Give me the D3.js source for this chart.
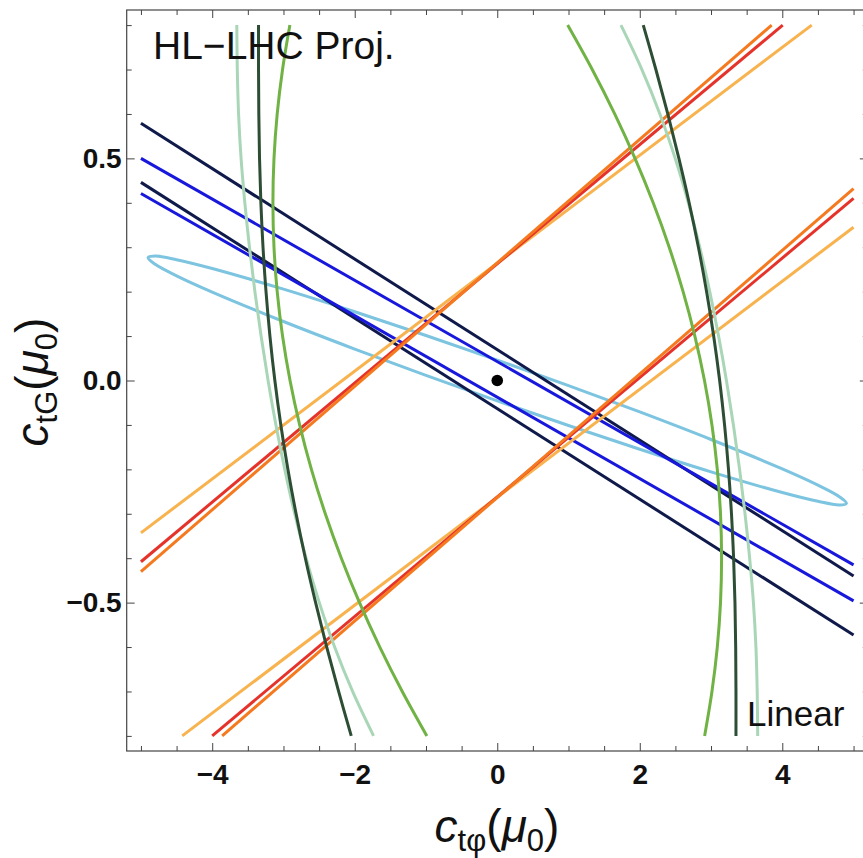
<!DOCTYPE html>
<html><head><meta charset="utf-8">
<script src="https://cdn.jsdelivr.net/npm/d3@7"></script>
<style>body{margin:0;background:#fff;overflow:hidden}</style>
</head><body>
<svg id="chart" width="863" height="858"></svg>
<script>
// ---- data ----
const xMajorTicks = [-4, -2, 0, 2, 4];
const xMinorTicks = [-5,-4.5,-3.5,-3,-2.5,-1.5,-1,-0.5,0.5,1,1.5,2.5,3,3.5,4.5,5];
const yMajorTicks = [-0.5, 0, 0.5];
const yMinorTicks = [-0.8,-0.7,-0.6,-0.4,-0.3,-0.2,-0.1,0.1,0.2,0.3,0.4,0.6,0.7,0.8];

// straight constraint lines [[x0,y0],[x1,y1]]
const navyLines = [[[-5, 0.579],[5,-0.440]], [[-5, 0.446],[5,-0.573]]];
const blueLines = [[[-5, 0.500],[5,-0.415]], [[-5, 0.421],[5,-0.496]]];
const lightOrangeLines = [[[-5,-0.343],[4.413,0.80]], [[-4.421,-0.80],[5,0.345]]];
const redLines = [[[-5,-0.408],[4.006,0.80]], [[-4.0,-0.80],[5,0.410]]];
const orangeLines = [[[-5,-0.430],[3.851,0.80]], [[-3.86,-0.80],[5,0.432]]];

// ellipse outline (closed)
const ellipsePts = [
  [-4.9,0.2764],[-4.8,0.280],[-4.5,0.272],[-4,0.2522],[-3,0.2056],[-2,0.1548],[-1,0.1014],[0,0.046],
  [1,-0.0114],[2,-0.0708],[3,-0.1328],[4,-0.199],[4.5,-0.2356],[4.8,-0.2615],
  [4.9,-0.2764],[4.8,-0.280],[4.5,-0.272],[4,-0.2522],[3,-0.2056],[2,-0.1548],[1,-0.1014],[0,-0.046],
  [-1,0.0114],[-2,0.0708],[-3,0.1328],[-4,0.199],[-4.5,0.2356],[-4.8,0.2615]
];

// curved constraints: x positions read at these c_tG levels
const greenY = [0.8,0.7,0.6,0.5,0.4,0.3,0.2,0.1,0,-0.1,-0.2,-0.3,-0.4,-0.5,-0.6,-0.7,-0.8];
const midGreenRightX  = [0.988,1.333,1.648,1.933,2.188,2.413,2.608,2.773,2.908,3.013,3.088,3.133,3.148,3.133,3.088,3.013,2.910];
const midGreenLeftX   = [-2.910,-3.013,-3.088,-3.133,-3.148,-3.133,-3.088,-3.013,-2.908,-2.773,-2.608,-2.413,-2.188,-1.933,-1.648,-1.333,-0.988];
const paleGreenRightX = [1.736,2.030,2.282,2.497,2.682,2.842,2.982,3.106,3.216,3.314,3.401,3.477,3.542,3.595,3.630,3.648,3.655];
const paleGreenLeftX  = [-3.655,-3.648,-3.630,-3.595,-3.542,-3.477,-3.401,-3.314,-3.216,-3.106,-2.982,-2.842,-2.682,-2.497,-2.282,-2.030,-1.736];
const darkGreenRightX = [2.049,2.226,2.393,2.549,2.693,2.823,2.938,3.037,3.121,3.190,3.245,3.287,3.317,3.336,3.346,3.350,3.350];
const darkGreenLeftX  = [-3.350,-3.350,-3.346,-3.336,-3.317,-3.287,-3.245,-3.190,-3.121,-3.037,-2.938,-2.823,-2.693,-2.549,-2.393,-2.226,-2.049];

const bestFit = [[0, 0]];

// ---- styles ----
const C = {
  navy: "#0f1a4b", blue: "#1818dc", sky: "#7cc4e0",
  orange: "#f5791f", red: "#e5332b", lightOrange: "#f8b24e",
  midGreen: "#70b244", darkGreen: "#2d4e34", paleGreen: "#aad6b8"
};
const svg = d3.select("#chart");
const x = d3.scaleLinear().domain([-5.2, 5.2]).range([126.7, 867.8]);
const y = d3.scaleLinear().domain([-0.834, 0.834]).range([751, 10]);
const FONT = "'Liberation Sans', Arial, Helvetica, sans-serif";

// frame
svg.append("rect").attr("x", x(-5.2)).attr("y", y(0.834))
  .attr("width", x(5.2) - x(-5.2)).attr("height", y(-0.834) - y(0.834))
  .attr("fill", "none").attr("stroke", "#444").attr("stroke-width", 1.2);

function axis(gen, scale, ticks, size, fmt, pad, tx, ty) {
  const a = gen(scale).tickValues(ticks).tickSizeInner(-size).tickSizeOuter(0)
    .tickFormat(fmt || "").tickPadding(pad || 3);
  const g = svg.append("g").attr("transform", `translate(${tx},${ty})`).call(a);
  g.select(".domain").remove();
  g.selectAll(".tick line").attr("stroke", "#444").attr("stroke-width", 1);
  return g;
}
const fmtX = d3.format("d"), fmtY = d3.format(".1f");
axis(d3.axisBottom, x, xMajorTicks, 8, fmtX, 13, 0, y(-0.834));
axis(d3.axisBottom, x, xMinorTicks, 5, null, 0, 0, y(-0.834));
axis(d3.axisTop, x, xMajorTicks, 8, null, 0, 0, y(0.834));
axis(d3.axisTop, x, xMinorTicks, 5, null, 0, 0, y(0.834));
axis(d3.axisLeft, y, yMajorTicks, 8, fmtY, 5, x(-5.2), 0);
axis(d3.axisLeft, y, yMinorTicks, 5, null, 0, x(-5.2), 0);
axis(d3.axisRight, y, yMajorTicks, 8, null, 0, x(5.2), 0);
axis(d3.axisRight, y, yMinorTicks, 5, null, 0, x(5.2), 0);
svg.selectAll(".tick text").attr("font-family", FONT).attr("font-weight", "bold")
  .attr("font-size", 28).attr("fill", "#111");

// marks
const line = d3.line().x(d => x(d[0])).y(d => y(d[1]));
const curve = d3.line().x(d => x(d[0])).y(d => y(d[1])).curve(d3.curveCatmullRom.alpha(0.5));
const closed = d3.line().x(d => x(d[0])).y(d => y(d[1])).curve(d3.curveCatmullRomClosed.alpha(0.5));
const plot = svg.append("g").attr("fill", "none").attr("stroke-width", 3);

plot.append("path").attr("d", closed(ellipsePts)).attr("stroke", C.sky);
function drawLines(arr, col) { arr.forEach(s => plot.append("path").attr("d", line(s)).attr("stroke", col)); }
drawLines(navyLines, C.navy);
drawLines(blueLines, C.blue);
drawLines(lightOrangeLines, C.lightOrange);
drawLines(redLines, C.red);
drawLines(orangeLines, C.orange);
const zipY = xs => xs.map((v, i) => [v, greenY[i]]);
[[paleGreenLeftX, C.paleGreen],[paleGreenRightX, C.paleGreen],
 [darkGreenLeftX, C.darkGreen],[darkGreenRightX, C.darkGreen],
 [midGreenLeftX, C.midGreen],[midGreenRightX, C.midGreen]]
 .forEach(([xs, col]) => plot.append("path").attr("d", curve(zipY(xs))).attr("stroke", col));

svg.selectAll("circle.best").data(bestFit).join("circle").attr("class", "best")
  .attr("cx", d => x(d[0])).attr("cy", d => y(d[1])).attr("r", 5.8).attr("fill", "#000");

// texts
svg.append("text").attr("x", 153).attr("y", 59).attr("font-family", FONT)
  .attr("font-size", 39).attr("fill", "#111").text("HL\u2212LHC Proj.");
svg.append("text").attr("x", 747).attr("y", 726).attr("font-family", FONT)
  .attr("font-size", 35).attr("fill", "#111").text("Linear");

function axisTitle(g, sub1, sub2) {
  const t = g.append("text").attr("font-family", FONT).attr("font-size", 46).attr("fill", "#111")
    .attr("text-anchor", "middle");
  t.append("tspan").attr("font-style", "italic").text("c");
  t.append("tspan").attr("font-size", 31).attr("dy", 9).text(sub1);
  t.append("tspan").attr("dy", -9).text("(");
  t.append("tspan").attr("font-style", "italic").text("\u03bc");
  t.append("tspan").attr("font-size", 31).attr("dy", 9).text(sub2);
  t.append("tspan").attr("dy", -9).text(")");
  return t;
}
axisTitle(svg.append("g").attr("transform", "translate(497,842)"), "t\u03c6", "0");
axisTitle(svg.append("g").attr("transform", "translate(48,382) rotate(-90)"), "tG", "0");
</script>
</body></html>
